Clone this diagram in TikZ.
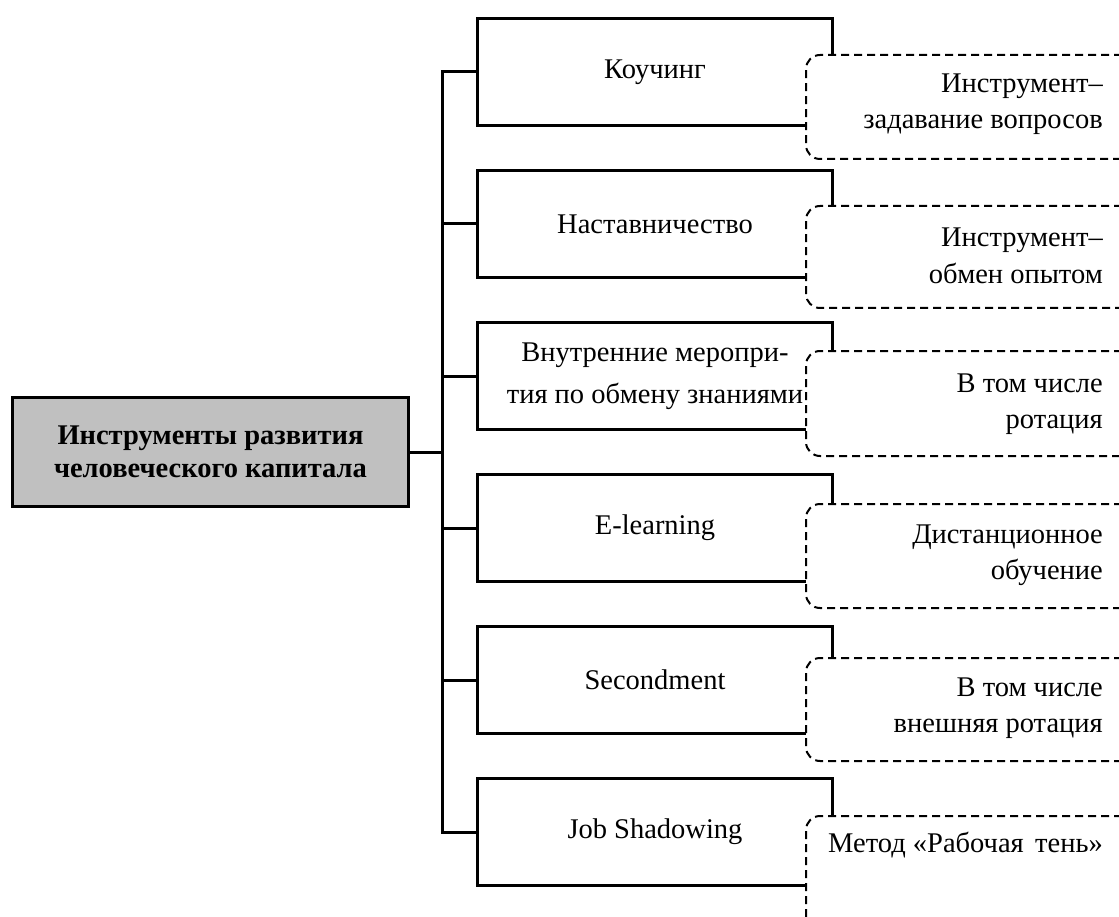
\documentclass[tikz,border=0pt]{standalone}
\usepackage{fontspec}
\setmainfont{Liberation Serif}
\begin{document}
\begin{tikzpicture}[x=1pt,y=-1pt,
  solidbox/.style={draw, line width=3pt, fill=white, minimum width=355pt, minimum height=107pt,
    anchor=north west, inner sep=0pt, align=center, font=\fontsize{28.5}{42}\selectfont},
  notebox/.style={draw, dash pattern=on 8pt off 5pt, line width=2pt, rounded corners=14pt,
    fill=white, anchor=north west, minimum width=330pt, inner sep=0pt},
  notetext/.style={anchor=east, align=right, inner sep=0pt, font=\fontsize{28.5}{36.5}\selectfont},
  conn/.style={line width=3pt, line join=miter}]
\useasboundingbox (0,0) rectangle (1119,917);
\clip (0,0) rectangle (1119,917);
\coordinate (bus) at (442,0);
% root
\node[draw, line width=3pt, fill={rgb,255:red,192;green,192;blue,192}, minimum width=396pt, minimum height=109pt,
  anchor=north west, inner sep=0pt, align=center, font=\fontsize{28.5}{33}\selectfont\bfseries]
  (root) at (11,396) {Инструменты развития\\человеческого капитала};
% main boxes
\node[solidbox] (b1) at (476,17) {Коучинг};
\node[solidbox] (b2) at (476,169) {Наставничество};
\node[solidbox] (b3) at (476,321) {Внутренние меропри-\\тия по обмену знаниями};
\node[solidbox] (b4) at (476,473) {E-learning};
\node[solidbox] (b5) at (476,625) {Secondment};
\node[solidbox] (b6) at (476,777) {Job Shadowing};
% dashed boxes
\node[notebox, minimum height=104pt] (n1) at (805,54) {};
\node[notebox, minimum height=102pt] (n2) at (805,205) {};
\node[notebox, minimum height=105pt] (n3) at (805,350) {};
\node[notebox, minimum height=104pt] (n4) at (805,503) {};
\node[notebox, minimum height=103pt] (n5) at (805,657) {};
\node[notebox, minimum height=115pt] (n6) at (805,815) {};
\node[notetext] (t1) at (1103,104) {Инструмент–\\задавание вопросов};
\node[notetext] (t2) at (1103,256) {Инструмент–\\обмен опытом};
\node[notetext] (t3) at (1103,404) {В том числе\\ротация};
\node[notetext] (t4) at (1103,555) {Дистанционное\\обучение};
\node[notetext] (t5) at (1103,708) {В том числе\\внешняя ротация};
\node[notetext] (t6) at (1103,845) {Метод «Рабочая\hspace{0.15em} тень»};
% connectors
\coordinate (bend) at (b6.west -| bus);
\draw[conn] (b1.west) -| (bend) -- (b6.west);
\draw[conn] (b2.west) -- (b2.west -| bus);
\draw[conn] (b3.west) -- (b3.west -| bus);
\draw[conn] (b4.west) -- (b4.west -| bus);
\draw[conn] (b5.west) -- (b5.west -| bus);
\draw[conn] (root.east) -- (root.east -| bus);
\end{tikzpicture}
\end{document}
